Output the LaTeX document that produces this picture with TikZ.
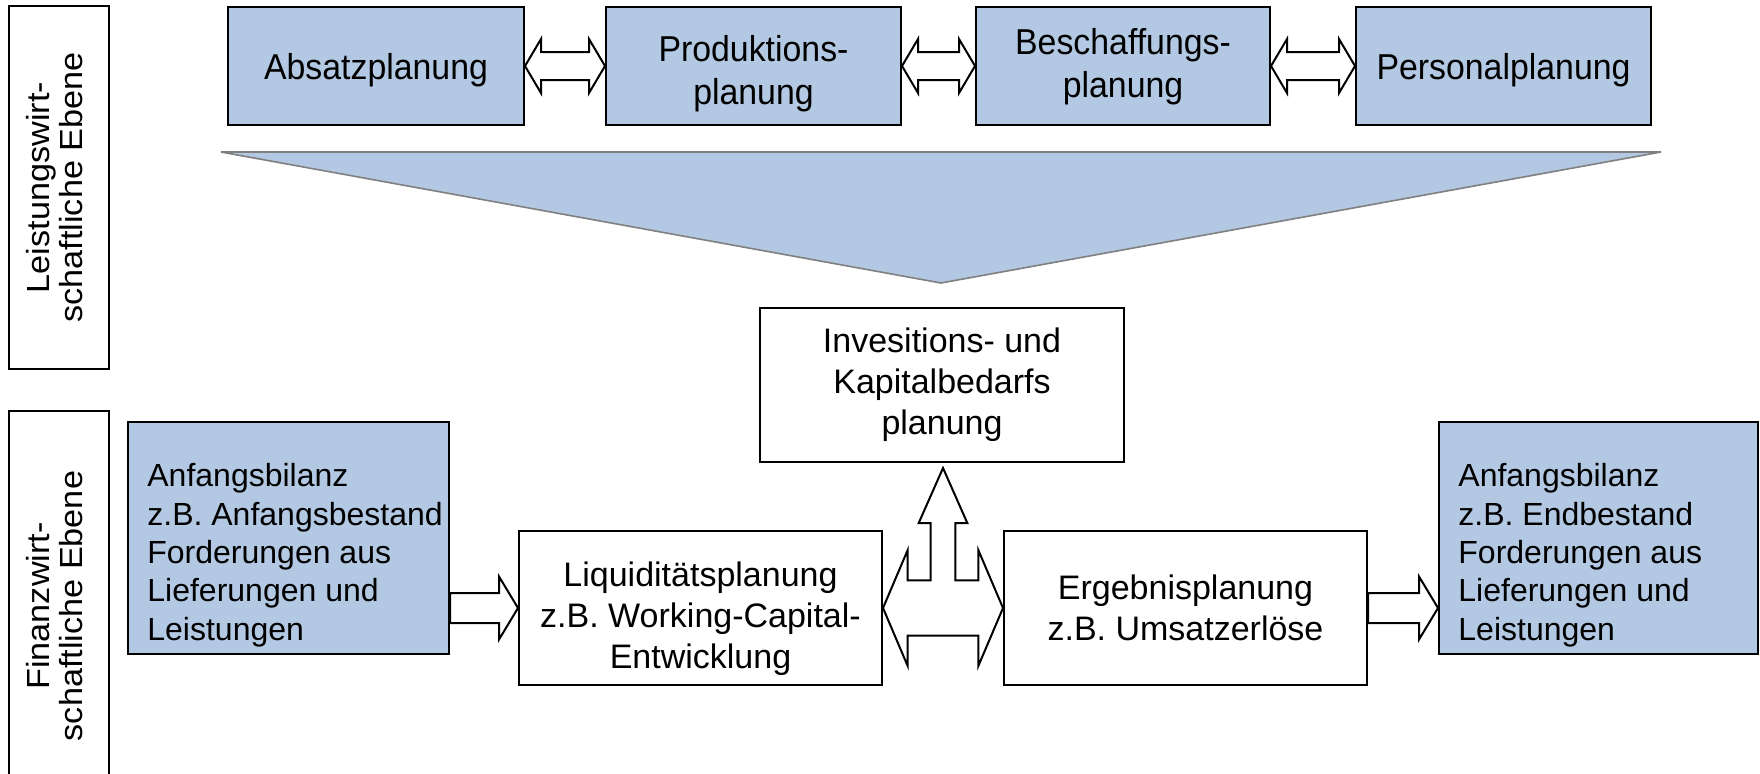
\documentclass[tikz,border=0pt]{standalone}
\usepackage{fontspec}
\usepackage{graphicx}
\setmainfont{Liberation Sans}
\usetikzlibrary{calc}
\definecolor{lblue}{RGB}{179,200,226}
\definecolor{trigray}{RGB}{128,128,128}
\newcommand\narr[2][0.94]{\scalebox{#1}[1]{\begin{tabular}{@{}c@{}}#2\end{tabular}}}
\newcommand\dblarr[5]{%
 \draw[barrow] (#1) -- ($(#1)+(#3,-#4)$) -- ($(#1)+(#3,-#5)$) -- ($(#2)+(-#3,-#5)$) -- ($(#2)+(-#3,-#4)$) -- (#2) -- ($(#2)+(-#3,#4)$) -- ($(#2)+(-#3,#5)$) -- ($(#1)+(#3,#5)$) -- ($(#1)+(#3,#4)$) -- cycle;}
\newcommand\sglarr[5]{%
 \draw[barrow] ($(#1)+(0,-#5)$) -- ($(#2)+(-#3,-#5)$) -- ($(#2)+(-#3,-#4)$) -- (#2) -- ($(#2)+(-#3,#4)$) -- ($(#2)+(-#3,#5)$) -- ($(#1)+(0,#5)$) -- cycle;}
\begin{document}
\begin{tikzpicture}[x=0.5pt,y=-0.5pt,
  ftop/.style={font=\fontsize{18}{21.5}\selectfont},
  fmid/.style={font=\fontsize{17}{20.5}\selectfont},
  flab/.style={font=\fontsize{16}{16}\selectfont},
  fbot/.style={font=\fontsize{16}{19.2}\selectfont},
  bluebox/.style={draw=black, line width=1pt, fill=lblue, inner sep=0pt, align=center, ftop},
  whitebox/.style={draw=black, line width=1pt, fill=white, inner sep=0pt, align=center, fmid},
  labelbox/.style={draw=black, line width=1pt, fill=white, inner sep=0pt, align=center, flab},
  toptext/.style={inner sep=0pt, align=center, ftop},
  barrow/.style={draw=black, line width=1pt, fill=white, line join=miter}]
\fill[white] (0,0) rectangle (1760,773);
\useasboundingbox (0,0) rectangle (1760,773);
% side labels
\node[labelbox, rotate=90, minimum width=181.5pt, minimum height=50pt] (lev1) at (59,187.5) {\narr[1.07]{Leistungswirt-\\schaftliche Ebene}};
\node[labelbox, rotate=90, minimum width=195pt, minimum height=50pt] (lev2) at (59,606) {\narr[1.07]{Finanzwirt-\\schaftliche Ebene}};
% top boxes
\node[bluebox, minimum width=148pt, minimum height=59pt] (abs) at (376,66) {};
\node[bluebox, minimum width=147.5pt, minimum height=59pt] (prod) at (753.5,66) {};
\node[bluebox, minimum width=147pt, minimum height=59pt] (besch) at (1123,66) {};
\node[bluebox, minimum width=147.5pt, minimum height=59pt] (pers) at (1503.5,66) {};
\node[toptext] (abst) at ($(abs.center)+(0,5)$) {\narr{Absatzplanung}};
\node[toptext] (prodt) at ($(prod.center)+(0,8)$) {\narr{Produktions-\\planung}};
\node[toptext] (bescht) at ($(besch.center)+(0,1)$) {\narr{Beschaffungs-\\planung}};
\node[toptext] (perst) at ($(pers.center)+(0,5)$) {\narr{Personalplanung}};
\dblarr{abs.east}{prod.west}{16}{27}{14}
\dblarr{prod.east}{besch.west}{16}{27}{14}
\dblarr{besch.east}{pers.west}{16}{27}{14}
% funnel triangle
\filldraw[fill=lblue, draw=trigray, line width=0.8pt, line join=miter] (221,152) -- (1661,152) -- (941,283) -- cycle;
% middle and bottom boxes
\node[whitebox, minimum width=182pt, minimum height=77pt] (inv) at (942,385) {Invesitions- und\\Kapitalbedarfs\\planung};
\node[whitebox, minimum width=181.5pt, minimum height=77pt] (liq) at (700.5,608) {};
\node[align=center, inner sep=0pt, fmid] (liqt) at ($(liq.center)+(0,11)$) {Liquiditätsplanung\\z.B. Working-Capital-\\Entwicklung};
\node[whitebox, minimum width=181.5pt, minimum height=77pt] (erg) at (1185.5,608) {Ergebnisplanung\\z.B. Umsatzerlöse};
\node[bluebox, minimum width=160.5pt, minimum height=116pt] (anf) at (288.5,538) {};
\node[bluebox, minimum width=159.5pt, minimum height=116pt] (end) at (1598.5,538) {};
\node[anchor=north west, align=left, inner sep=0pt, fbot] (anft) at ($(anf.north west)+(20,42)$) {Anfangsbilanz\\z.B. Anfangsbestand\\Forderungen aus\\Lieferungen und\\Leistungen};
\node[anchor=north west, align=left, inner sep=0pt, fbot] (endt) at ($(end.north west)+(20,42)$) {Anfangsbilanz\\z.B. Endbestand\\Forderungen aus\\Lieferungen und\\Leistungen};
% bottom arrows
\coordinate (a1) at (anf.east |- liq.west);
\sglarr{a1}{liq.west}{19}{31.5}{15}
\coordinate (a2) at (end.west |- erg.east);
\sglarr{erg.east}{a2}{19}{31.5}{15}
% T-shaped arrow
\coordinate (M) at ($(liq.east)!0.5!(erg.west)$);
\coordinate (T) at ($(M |- inv.south)+(0,5)$);
\draw[barrow] (liq.east) -- ($(liq.east)+(24.7,-58)$) -- ($(liq.east)+(24.7,-27.7)$)
  -- ($(M)+(-12.3,-27.7)$) -- ($(T)+(-12.3,55)$) -- ($(T)+(-24.3,55)$) -- (T)
  -- ($(T)+(24.3,55)$) -- ($(T)+(12.3,55)$) -- ($(M)+(12.3,-27.7)$)
  -- ($(erg.west)+(-24.7,-27.7)$) -- ($(erg.west)+(-24.7,-58)$) -- (erg.west)
  -- ($(erg.west)+(-24.7,58)$) -- ($(erg.west)+(-24.7,27.7)$)
  -- ($(liq.east)+(24.7,27.7)$) -- ($(liq.east)+(24.7,58)$) -- cycle;
\end{tikzpicture}
\end{document}
